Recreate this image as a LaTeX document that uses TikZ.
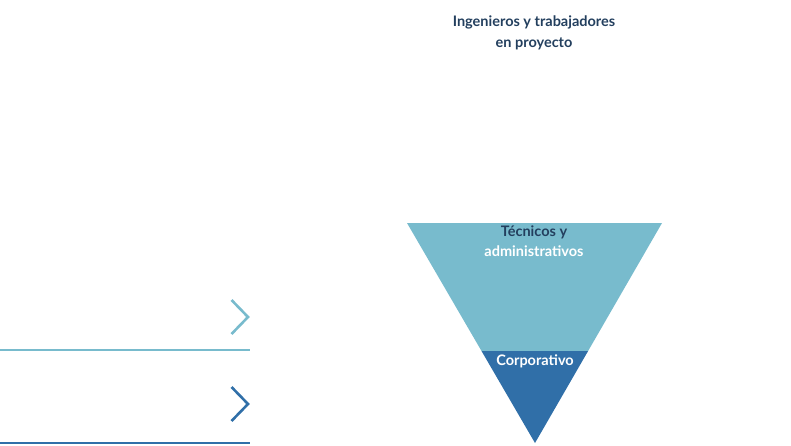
\documentclass[tikz,border=0pt]{standalone}
\usepackage{fontspec}
\setmainfont{Lato}[UprightFont=* Bold]
\usepackage{xcolor}
\usetikzlibrary{positioning,calc}
\definecolor{lightblue}{HTML}{78BBCD}
\definecolor{darkblue}{HTML}{306FA8}
\definecolor{inktext}{HTML}{233F5E}
\tikzset{
  label text/.style={font=\fontsize{14.5}{21}\selectfont,align=center,inner sep=0pt},
  chevron/.style={line width=2.6pt,line cap=butt,line join=miter}
}
\begin{document}
\begin{tikzpicture}[x=1pt,y=-1pt]
  \useasboundingbox (0,0) rectangle (791,445);
  % inverted triangle, split in two bands
  \fill[lightblue] (407,223)--(662,223)--(588.1,351)--(481.5,351)--cycle;
  \fill[darkblue] (481.5,351)--(588.1,351)--(535,443)--cycle;
  % left markers
  \draw[chevron,lightblue] (231.5,300)--(248,317)--(231.5,334);
  \draw[lightblue,line width=2.6pt] (0,350)--(250,350);
  \draw[chevron,darkblue] (231.5,387)--(248,404)--(231.5,421);
  \draw[darkblue,line width=2.6pt] (0,443)--(250,443);
  % labels
  \node[label text,text=inktext] (proyecto) at (534,33) {Ingenieros y trabajadores\\en proyecto};
  \node[label text,text=inktext] (tecnicos) at (534,232) {Técnicos y};
  \node[label text,text=white] (admin) at (534,251) {administrativos};
  \node[label text,text=white] (corp) at (535,361) {Corporativo};
\end{tikzpicture}
\end{document}
